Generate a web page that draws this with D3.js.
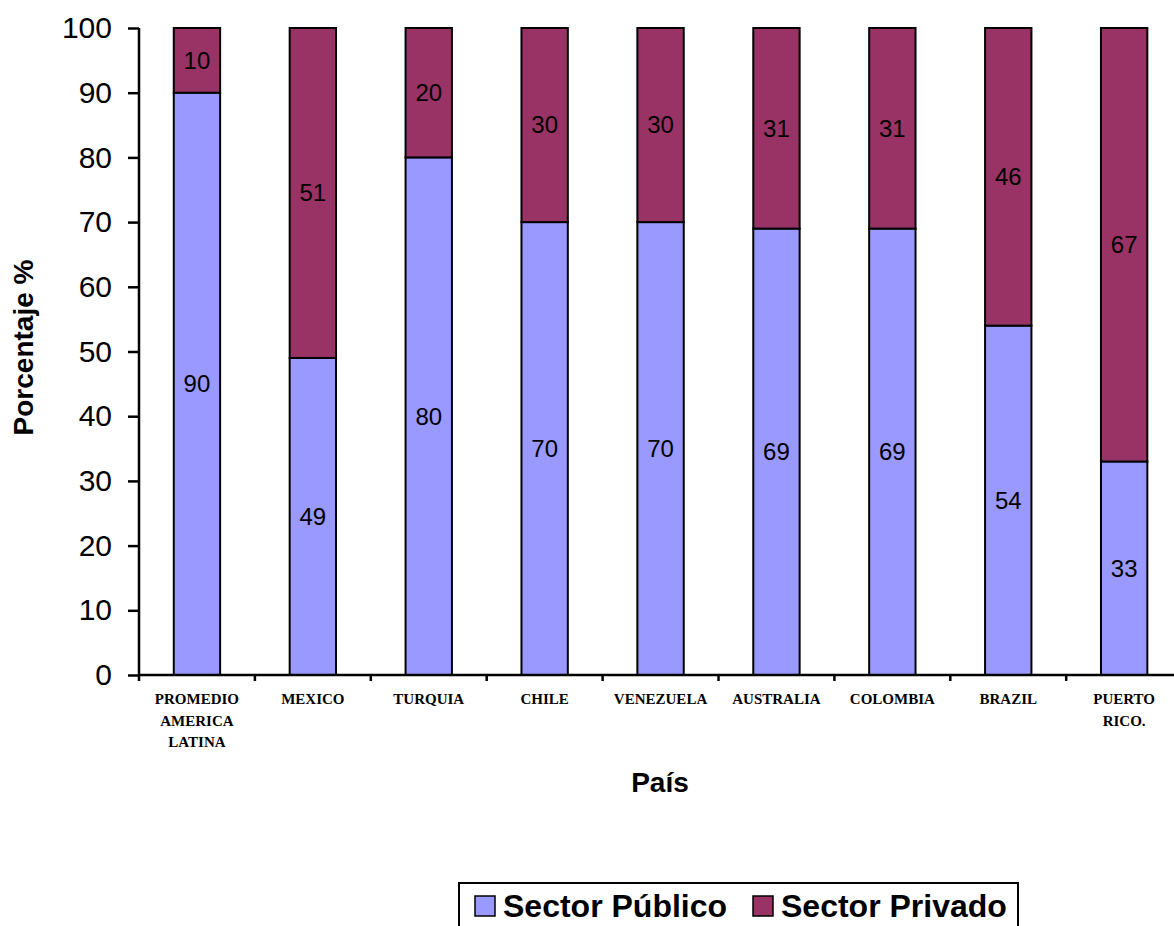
<!DOCTYPE html>
<html>
<head>
<meta charset="utf-8">
<script src="https://cdn.jsdelivr.net/npm/d3@7"></script>
<style>
  html, body { margin: 0; padding: 0; background: #fff; }
  svg { display: block; }
</style>
</head>
<body>
<svg id="chart" width="1174" height="926"></svg>
<script>
// Participación del sector público y privado por país (%)
const categories = [
  ["PROMEDIO", "AMERICA", "LATINA"],
  ["MEXICO"],
  ["TURQUIA"],
  ["CHILE"],
  ["VENEZUELA"],
  ["AUSTRALIA"],
  ["COLOMBIA"],
  ["BRAZIL"],
  ["PUERTO", "RICO."]
];
const publico = [90, 49, 80, 70, 70, 69, 69, 54, 33];
const privado = [10, 51, 20, 30, 30, 31, 31, 46, 67];
const yTicks = [0, 10, 20, 30, 40, 50, 60, 70, 80, 90, 100];
const seriesNames = ["Sector Público", "Sector Privado"];
const seriesColors = ["#9999FF", "#993366"];

(function draw() {
  const svg = d3.select("#chart");
  const plotLeft = 139, plotBottom = 675, plotTop = 28;
  const nCat = categories.length;
  const step = 115.9;
  const plotRight = plotLeft + step * nCat;

  const keys = categories.map(c => c.join(" "));
  const rows = keys.map((k, i) => ({ key: k, publico: publico[i], privado: privado[i] }));

  const x = d3.scaleBand()
    .domain(keys)
    .range([plotLeft, plotRight])
    .paddingInner(0.6)
    .paddingOuter(0.3);

  const y = d3.scaleLinear().domain([0, 100]).range([plotBottom, plotTop]);

  const layers = d3.stack().keys(["publico", "privado"])(rows);

  // stacked bars
  const g = svg.append("g");
  layers.forEach((layer, li) => {
    g.selectAll(null)
      .data(layer)
      .enter()
      .append("rect")
      .attr("x", d => x(d.data.key))
      .attr("width", x.bandwidth())
      .attr("y", d => y(d[1]))
      .attr("height", d => y(d[0]) - y(d[1]))
      .attr("fill", seriesColors[li])
      .attr("stroke", "#000")
      .attr("stroke-width", 2);
  });

  // value labels centred in each segment
  layers.forEach((layer) => {
    g.selectAll(null)
      .data(layer)
      .enter()
      .append("text")
      .attr("x", d => x(d.data.key) + x.bandwidth() / 2)
      .attr("y", d => y((d[0] + d[1]) / 2))
      .attr("dy", "0.35em")
      .attr("text-anchor", "middle")
      .attr("font-family", "Liberation Sans, Arial, sans-serif")
      .attr("font-size", 24)
      .attr("fill", "#000")
      .text(d => d[1] - d[0]);
  });

  // y axis
  const yAxis = d3.axisLeft(y).tickValues(yTicks).tickSize(11).tickPadding(16);
  const ya = svg.append("g")
    .attr("transform", `translate(${plotLeft},0)`)
    .call(yAxis);
  ya.select(".domain").attr("stroke", "#000").attr("stroke-width", 2.5)
    .attr("d", `M0,${plotTop}V${plotBottom}`);
  ya.selectAll(".tick line").attr("stroke", "#000").attr("stroke-width", 2.5);
  ya.selectAll(".tick text")
    .attr("font-family", "Liberation Sans, Arial, sans-serif")
    .attr("font-size", 30)
    .attr("fill", "#000");

  // x axis line with ticks at category boundaries
  svg.append("line")
    .attr("x1", plotLeft).attr("x2", 1174)
    .attr("y1", plotBottom).attr("y2", plotBottom)
    .attr("stroke", "#000").attr("stroke-width", 2.5);
  d3.range(nCat + 1).forEach(i => {
    const xb = plotLeft + i * x.step();
    svg.append("line")
      .attr("x1", xb).attr("x2", xb)
      .attr("y1", plotBottom).attr("y2", plotBottom + 6)
      .attr("stroke", "#000").attr("stroke-width", 2.5);
  });

  // category labels
  categories.forEach((lines, i) => {
    const t = svg.append("text")
      .attr("text-anchor", "middle")
      .attr("font-family", "Liberation Serif, 'Times New Roman', serif")
      .attr("font-weight", "bold")
      .attr("font-size", 15)
      .attr("fill", "#000");
    lines.forEach((ln, j) => {
      t.append("tspan")
        .attr("x", x(keys[i]) + x.bandwidth() / 2)
        .attr("y", 704 + j * 21.5)
        .text(ln);
    });
  });

  // axis titles
  svg.append("text")
    .attr("transform", `translate(33,${(258 + 437) / 2}) rotate(-90)`)
    .attr("text-anchor", "middle")
    .attr("font-family", "Liberation Sans, Arial, sans-serif")
    .attr("font-weight", "bold")
    .attr("font-size", 28)
    .attr("fill", "#000")
    .text("Porcentaje %");

  svg.append("text")
    .attr("x", 660).attr("y", 792)
    .attr("text-anchor", "middle")
    .attr("font-family", "Liberation Sans, Arial, sans-serif")
    .attr("font-weight", "bold")
    .attr("font-size", 28)
    .attr("fill", "#000")
    .text("País");

  // legend
  const lg = svg.append("g");
  lg.append("rect")
    .attr("x", 459).attr("y", 883)
    .attr("width", 559).attr("height", 60)
    .attr("fill", "#fff").attr("stroke", "#000").attr("stroke-width", 2);
  const legendX = [475, 753];
  seriesNames.forEach((name, i) => {
    lg.append("rect")
      .attr("x", legendX[i]).attr("y", 896)
      .attr("width", 20).attr("height", 20)
      .attr("fill", seriesColors[i])
      .attr("stroke", "#000").attr("stroke-width", 1.5);
    lg.append("text")
      .attr("x", legendX[i] + 28).attr("y", 917)
      .attr("font-family", "Liberation Sans, Arial, sans-serif")
      .attr("font-weight", "bold")
      .attr("font-size", 32)
      .attr("fill", "#000")
      .text(name);
  });
})();
</script>
</body>
</html>
